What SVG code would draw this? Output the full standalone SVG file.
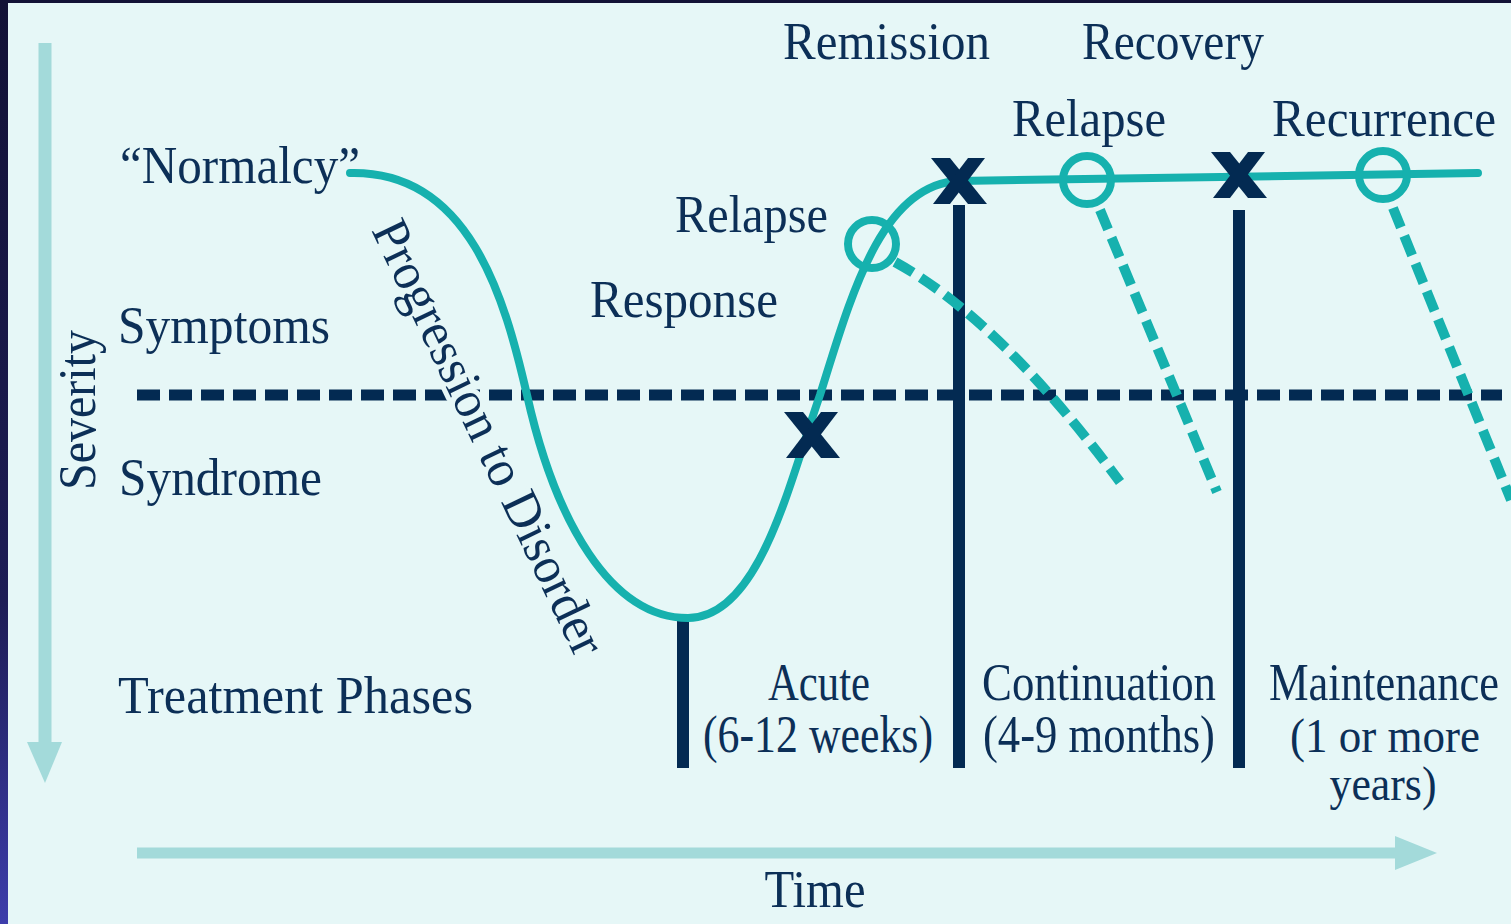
<svg xmlns="http://www.w3.org/2000/svg" width="1511" height="924" viewBox="0 0 1511 924">
  <style>
    .t { font-family: "Liberation Serif", "Times New Roman", serif; font-size: 52px; fill: #0c2f57; }
    .s { font-size: 49px; }
    .m { text-anchor: middle; }
    .curve { fill: none; stroke: #16b1ae; stroke-width: 8; stroke-linecap: round; }
    .tdash { fill: none; stroke: #16b1ae; stroke-width: 10; stroke-dasharray: 21 9; }
    .ndash { fill: none; stroke: #032a52; stroke-width: 11; stroke-dasharray: 23 9; }
    .vline { stroke: #032a52; stroke-width: 12; }
    .ring { fill: none; stroke: #16b1ae; stroke-width: 8; }
    .axis { stroke: #a3dada; }
    .axh { fill: #a3dada; }
  </style>
  <defs>
    <linearGradient id="edge" x1="0" y1="0" x2="0" y2="1">
      <stop offset="0" stop-color="#121236"/>
      <stop offset="0.65" stop-color="#1d1d55"/>
      <stop offset="1" stop-color="#3d3dab"/>
    </linearGradient>
    <g id="xmark">
      <polygon points="-28,-23 -9,-23 28,23 9,23" fill="#032a52"/>
      <polygon points="9,-23 26,-23 -9,23 -26,23" fill="#032a52"/>
    </g>
  </defs>

  <rect x="0" y="0" width="1511" height="924" fill="#e6f7f7"/>
  <rect x="0" y="0" width="8" height="924" fill="url(#edge)"/>
  <rect x="0" y="0" width="1511" height="3" fill="#121236"/>

  <g id="axes">
    <line class="axis" x1="45" y1="43" x2="45" y2="746" stroke-width="13"/>
    <polygon class="axh" points="27,742 62,742 45,783"/>
    <line class="axis" x1="137" y1="853" x2="1400" y2="853" stroke-width="11"/>
    <polygon class="axh" points="1395,836 1437,853 1395,870"/>
  </g>

  <g id="connectors">
    <line class="ndash" x1="137" y1="395" x2="1502" y2="395"/>
    <line class="vline" x1="683" y1="617" x2="683" y2="768"/>
    <line class="vline" x1="959" y1="205" x2="959" y2="768"/>
    <line class="vline" x1="1239" y1="210" x2="1239" y2="768"/>
    <path class="tdash" d="M895,262 Q1000,320 1120,482"/>
    <path class="tdash" d="M1100,210 L1217,492"/>
    <path class="tdash" d="M1393,208 L1511,500"/>
    <path class="curve" d="M350,173 C470,170 505,300 527,395 C555,520 610,618 688,618 C760,618 790,480 820,395 C850,300 880,185 958,181 L1478,173"/>
  </g>

  <g id="markers">
    <circle class="ring" cx="872" cy="244" r="24"/>
    <circle class="ring" cx="1087" cy="180" r="24"/>
    <circle class="ring" cx="1383" cy="175" r="24"/>
    <use href="#xmark" x="812" y="435"/>
    <use href="#xmark" x="959" y="181"/>
    <use href="#xmark" x="1239" y="175"/>
  </g>

  <g id="labels">
    <text class="t" x="783" y="59" textLength="207" lengthAdjust="spacingAndGlyphs">Remission</text>
    <text class="t" x="1082" y="59" textLength="182" lengthAdjust="spacingAndGlyphs">Recovery</text>
    <text class="t" x="1012" y="136" textLength="154" lengthAdjust="spacingAndGlyphs">Relapse</text>
    <text class="t" x="1272" y="136" textLength="224" lengthAdjust="spacingAndGlyphs">Recurrence</text>
    <text class="t" x="120" y="183" textLength="240" lengthAdjust="spacingAndGlyphs">“Normalcy”</text>
    <text class="t" x="675" y="232" textLength="153" lengthAdjust="spacingAndGlyphs">Relapse</text>
    <text class="t" x="590" y="317" textLength="188" lengthAdjust="spacingAndGlyphs">Response</text>
    <text class="t" x="118" y="343" textLength="212" lengthAdjust="spacingAndGlyphs">Symptoms</text>
    <text class="t" x="119" y="495" textLength="203" lengthAdjust="spacingAndGlyphs">Syndrome</text>
    <text class="t" transform="translate(95,490) rotate(-90)" x="0" y="0" textLength="160" lengthAdjust="spacingAndGlyphs">Severity</text>
    <text class="t" x="118" y="713" textLength="355" lengthAdjust="spacingAndGlyphs">Treatment Phases</text>
    <text class="t" transform="translate(371,230) rotate(64.5)" x="0" y="0" textLength="476" lengthAdjust="spacingAndGlyphs" stroke="#e6f7f7" stroke-width="10" paint-order="stroke" stroke-linejoin="round">Progression to Disorder</text>
  </g>

  <g id="phase-acute">
    <text class="t m" x="819" y="700" textLength="102" lengthAdjust="spacingAndGlyphs">Acute</text>
    <text class="t m" x="818" y="752" textLength="230" lengthAdjust="spacingAndGlyphs">(6-12 weeks)</text>
  </g>
  <g id="phase-continuation">
    <text class="t m" x="1099" y="700" textLength="234" lengthAdjust="spacingAndGlyphs">Continuation</text>
    <text class="t m" x="1099" y="752" textLength="232" lengthAdjust="spacingAndGlyphs">(4-9 months)</text>
  </g>
  <g id="phase-maintenance">
    <text class="t m" x="1384" y="700" textLength="230" lengthAdjust="spacingAndGlyphs">Maintenance</text>
    <text class="t m s" x="1385" y="752" textLength="190" lengthAdjust="spacingAndGlyphs">(1 or more</text>
    <text class="t m s" x="1383" y="800" textLength="107" lengthAdjust="spacingAndGlyphs">years)</text>
  </g>
  <g id="time-label">
    <text class="t m" x="815" y="907" textLength="101" lengthAdjust="spacingAndGlyphs">Time</text>
  </g>
</svg>
